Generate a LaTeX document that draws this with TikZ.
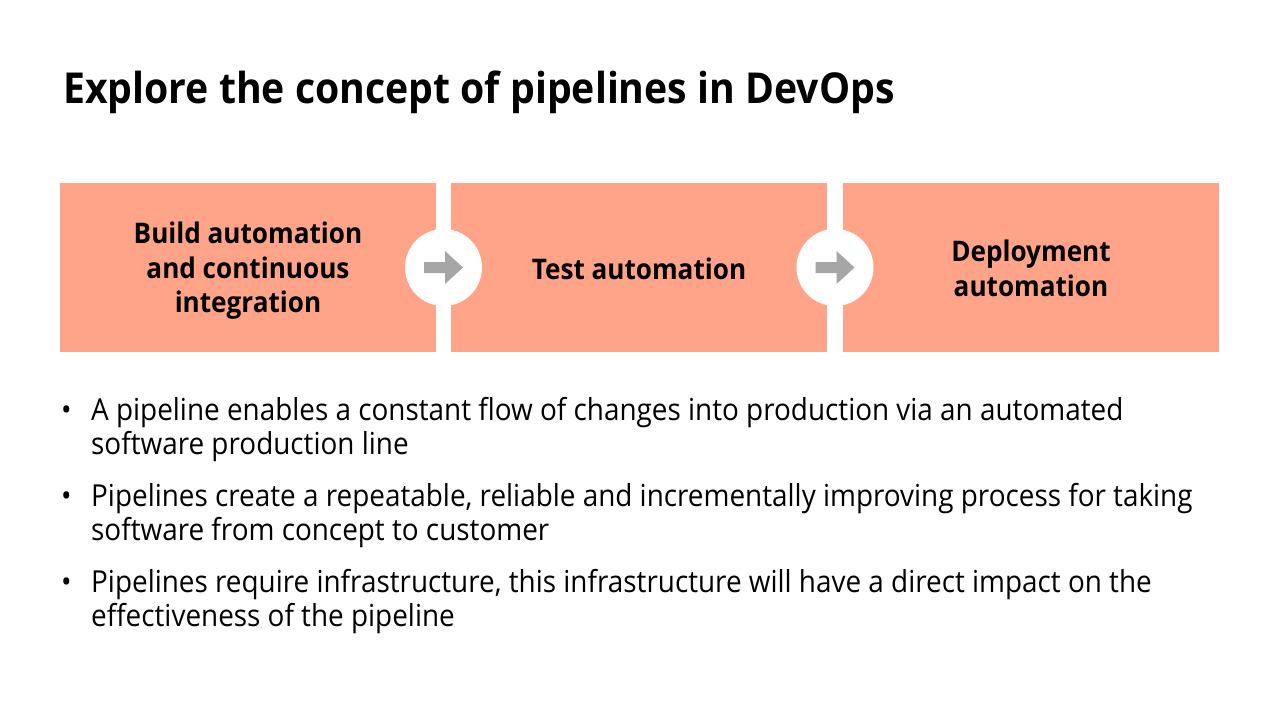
\documentclass[tikz,border=0pt]{standalone}
\usepackage{fontspec}
\setmainfont{Open Sans}[FakeStretch=0.92]
\usetikzlibrary{calc}
\definecolor{boxfill}{RGB}{255,164,137}
\definecolor{arrowgray}{RGB}{166,166,166}
\begin{document}
\begin{tikzpicture}[x=1pt,y=-1pt,
  stagebox/.style={fill=boxfill,draw=none,minimum width=376pt,minimum height=169pt,anchor=north west,inner sep=0pt},
  stagetext/.style={font=\fontsize{28.4}{34.5}\selectfont\bfseries,align=center,text=black},
  joint/.style={circle,fill=white,minimum size=77pt,inner sep=0pt},
  bullettext/.style={font=\fontsize{30.3}{34.5}\selectfont,align=left,anchor=base west,inner sep=0pt},
  dot/.style={font=\fontsize{30.3}{34.5}\selectfont,anchor=base west,inner sep=0pt}]
\useasboundingbox (0,0) rectangle (1280,720);
\fill[white] (0,0) rectangle (1280,720);
\node[anchor=base west,inner sep=0pt,font=\fontsize{42.6}{48}\selectfont\bfseries] (title) at (63,103) {Explore the concept of pipelines in DevOps};
\node[stagebox] (b1) at (60,183) {};
\node[stagebox] (b2) at (451,183) {};
\node[stagebox] (b3) at (843,183) {};
\node[stagetext] (t1) at (248,271) {Build automation\\and continuous\\integration};
\node[stagetext] (t2) at (639,269) {Test automation};
\node[stagetext] (t3) at (1031,268.5) {Deployment\\automation};
\foreach \n/\x in {j1/443.5,j2/835} {
  \node[joint] (\n) at (\x,267.5) {};
  \fill[arrowgray] ($(\n)+(-19.5,-5.5)$) -- ($(\n)+(1.5,-5.5)$) -- ($(\n)+(1.5,-16.5)$) -- ($(\n)+(19.5,0)$) -- ($(\n)+(1.5,16.5)$) -- ($(\n)+(1.5,5.5)$) -- ($(\n)+(-19.5,5.5)$) -- cycle;
}
\node[dot] (d1) at (61,420) {•};
\node[bullettext] (p1) at (91,454.5) {A pipeline enables a constant flow of changes into production via an automated\\software production line};
\node[dot] (d2) at (61,506) {•};
\node[bullettext] (p2) at (91,540.5) {Pipelines create a repeatable, reliable and incrementally improving process for taking\\software from concept to customer};
\node[dot] (d3) at (61,592) {•};
\node[bullettext] (p3) at (91,626.5) {Pipelines require infrastructure, this infrastructure will have a direct impact on the\\effectiveness of the pipeline};
\end{tikzpicture}
\end{document}
